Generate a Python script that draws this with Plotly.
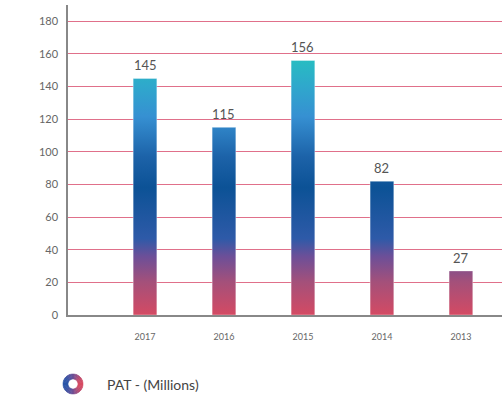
import numpy as np
import plotly.graph_objects as go

# ---- data ----
years = ["2017", "2016", "2015", "2014", "2013"]
pat = [145, 115, 156, 82, 27]
series_name = "PAT - (Millions)"
y_ticks = [0, 20, 40, 60, 80, 100, 120, 140, 160, 180]

# ---- style ----
grad_scale = [
    [0.00, "#d44a63"],
    [0.13, "#a4507a"],
    [0.23, "#6c4f98"],
    [0.30, "#2e5aa8"],
    [0.50, "#0c5296"],
    [0.62, "#1c62a8"],
    [0.78, "#3690d2"],
    [0.90, "#2fa8cc"],
    [1.00, "#27bcc2"],
]
grad_top = max(pat)
half_w = 0.15
font_family = "Lato, 'DejaVu Sans', sans-serif"

fig = go.Figure()
for i, (yr, v) in enumerate(zip(years, pat)):
    fig.add_trace(go.Scatter(
        x=[i - half_w, i + half_w, i + half_w, i - half_w, i - half_w],
        y=[0, 0, v, v, 0],
        mode="lines",
        line=dict(color="rgba(255,255,255,0.35)", width=1),
        fill="toself",
        fillgradient=dict(type="vertical", colorscale=grad_scale, start=0, stop=grad_top),
        name=series_name,
        showlegend=False,
        hoverinfo="skip",
    ))

annotations = []
# value labels
for i, v in enumerate(pat):
    annotations.append(dict(
        x=i, y=v, xref="x", yref="y", yshift=13,
        xanchor="center", yanchor="middle", showarrow=False,
        text=str(v),
        font=dict(size=13, color="#555555", family=font_family),
    ))

# custom legend: gradient ring + label
cx_paper = (73 - 68) / 434
cy_paper = (315 - 384) / 310
r_out, r_in = 10, 5.0
n_seg = 36
c_left = np.array([0x2a, 0x55, 0xa8])
c_mid = np.array([0x6e, 0x4f, 0x96])
c_right = np.array([0xd6, 0x4a, 0x62])
shapes = []
for k in range(n_seg):
    a0 = 2 * np.pi * k / n_seg
    a1 = 2 * np.pi * (k + 1) / n_seg
    angs = np.linspace(a0, a1, 4)
    pts = [(r_out * np.cos(a), r_out * np.sin(a)) for a in angs]
    pts += [(r_in * np.cos(a), r_in * np.sin(a)) for a in angs[::-1]]
    path = "M " + " L ".join(f"{px:.2f},{py:.2f}" for px, py in pts) + " Z"
    t = (np.cos((a0 + a1) / 2) + 1) / 2  # 0 left -> 1 right
    if t < 0.5:
        c = c_left + (c_mid - c_left) * (t / 0.5)
    else:
        c = c_mid + (c_right - c_mid) * ((t - 0.5) / 0.5)
    col = "rgb({},{},{})".format(*[int(round(x)) for x in c])
    shapes.append(dict(
        type="path", path=path,
        xref="paper", yref="paper",
        xsizemode="pixel", ysizemode="pixel",
        xanchor=cx_paper, yanchor=cy_paper,
        fillcolor=col, line=dict(color=col, width=0.6),
        layer="above",
    ))

annotations.append(dict(
    x=(105 - 68) / 434, y=cy_paper, xref="paper", yref="paper",
    xanchor="left", yanchor="middle", showarrow=False,
    text=series_name,
    font=dict(size=14, color="#444444", family=font_family),
))

fig.update_layout(
    width=502, height=395,
    margin=dict(l=68, r=0, t=5, b=80),
    paper_bgcolor="white", plot_bgcolor="white",
    font=dict(family=font_family, color="#666666"),
    shapes=shapes,
    annotations=annotations,
    showlegend=False,
)
fig.update_xaxes(
    range=[-0.975, 4.52],
    tickvals=list(range(len(years))), ticktext=years,
    tickfont=dict(size=9, color="#666666"),
    showgrid=False, zeroline=False,
    showline=True, linecolor="#888888", linewidth=1.5,
    ticks="outside", ticklen=12, tickcolor="rgba(0,0,0,0)",
    fixedrange=True,
)
fig.update_yaxes(
    range=[0, 190],
    tickvals=y_ticks,
    tickfont=dict(size=11, color="#666666"),
    showgrid=True, gridcolor="#e0708a", gridwidth=1,
    zeroline=False,
    showline=True, linecolor="#888888", linewidth=1.5,
    ticks="outside", ticklen=6, tickcolor="rgba(0,0,0,0)",
    fixedrange=True,
)

fig.write_html(
    "out.html",
    config={"displayModeBar": False},
    post_script="document.body.style.margin='0';document.body.style.overflow='hidden';",
)
